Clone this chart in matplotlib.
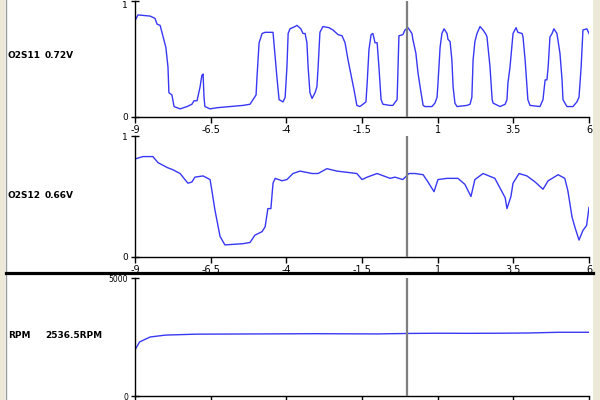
import matplotlib
matplotlib.use("Agg")
import matplotlib.pyplot as plt
from matplotlib.patches import Rectangle
from matplotlib.lines import Line2D

# ---------------- data ----------------
o2s11_t = [-9.00, -8.90, -8.50, -8.34, -8.27, -8.17, -8.07, -7.98, -7.91, -7.88, -7.78, -7.71, -7.51, -7.28,
           -7.12, -7.05, -6.95, -6.85, -6.79, -6.75, -6.72, -6.69, -6.52, -6.29, -5.86, -5.43, -5.20, -5.10,
           -5.00, -4.97, -4.90, -4.80, -4.70, -4.44, -4.41, -4.31, -4.24, -4.11, -4.04, -3.98, -3.94, -3.88,
           -3.71, -3.65, -3.52, -3.45, -3.38, -3.32, -3.28, -3.22, -3.15, -3.05, -2.99, -2.95, -2.89, -2.79,
           -2.59, -2.46, -2.29, -2.16, -2.06, -1.96, -1.83, -1.76, -1.67, -1.57, -1.47, -1.37, -1.33, -1.27,
           -1.20, -1.14, -1.07, -1.00, -0.94, -0.87, -0.81, -0.58, -0.48, -0.34, -0.31, -0.28, -0.15, -0.08,
           0.02, 0.15, 0.18, 0.28, 0.35, 0.45, 0.52, 0.58, 0.81, 0.91, 0.98, 1.01, 1.08, 1.14, 1.21, 1.31,
           1.34, 1.41, 1.47, 1.51, 1.57, 1.64, 1.97, 2.07, 2.13, 2.17, 2.23, 2.30, 2.40, 2.50, 2.60, 2.63,
           2.73, 2.80, 2.83, 3.06, 3.23, 3.29, 3.32, 3.39, 3.46, 3.49, 3.59, 3.65, 3.79, 3.82, 3.89, 3.95,
           3.98, 4.05, 4.38, 4.48, 4.55, 4.61, 4.65, 4.71, 4.78, 4.84, 4.94, 4.98, 5.04, 5.11, 5.14, 5.27,
           5.47, 5.60, 5.67, 5.74, 5.80, 5.93, 6.00]
o2s11_v = [0.83, 0.88, 0.87, 0.85, 0.80, 0.79, 0.69, 0.60, 0.43, 0.21, 0.19, 0.09, 0.07, 0.09,
           0.11, 0.14, 0.14, 0.26, 0.36, 0.37, 0.17, 0.09, 0.07, 0.08, 0.09, 0.10, 0.11, 0.15,
           0.19, 0.34, 0.64, 0.72, 0.73, 0.73, 0.64, 0.34, 0.15, 0.13, 0.17, 0.43, 0.72, 0.76,
           0.78, 0.79, 0.76, 0.72, 0.72, 0.64, 0.43, 0.21, 0.16, 0.21, 0.26, 0.43, 0.73, 0.78,
           0.77, 0.75, 0.71, 0.70, 0.64, 0.49, 0.32, 0.23, 0.10, 0.09, 0.11, 0.13, 0.29, 0.58,
           0.71, 0.72, 0.64, 0.64, 0.43, 0.15, 0.11, 0.10, 0.10, 0.15, 0.43, 0.70, 0.71, 0.75,
           0.77, 0.72, 0.67, 0.55, 0.38, 0.21, 0.10, 0.09, 0.09, 0.12, 0.17, 0.29, 0.60, 0.72, 0.76, 0.72,
           0.67, 0.65, 0.49, 0.26, 0.12, 0.09, 0.10, 0.11, 0.17, 0.49, 0.65, 0.72, 0.78, 0.75, 0.71, 0.69,
           0.43, 0.15, 0.12, 0.09, 0.11, 0.15, 0.29, 0.43, 0.64, 0.72, 0.77, 0.73, 0.72, 0.69, 0.49, 0.26,
           0.15, 0.10, 0.09, 0.15, 0.32, 0.32, 0.43, 0.69, 0.72, 0.76, 0.72, 0.65, 0.55, 0.32, 0.15, 0.09,
           0.09, 0.13, 0.17, 0.43, 0.75, 0.76, 0.72]

o2s12_t = [-9.00, -8.74, -8.41, -8.24, -7.94, -7.74, -7.51, -7.35, -7.25, -7.12, -7.02, -6.75, -6.52,
           -6.46, -6.36, -6.19, -6.03, -5.43, -5.20, -5.04, -4.80, -4.70, -4.61, -4.51, -4.44, -4.37,
           -4.14, -3.98, -3.78, -3.55, -3.15, -2.95, -2.66, -2.33, -2.00, -1.67, -1.50, -1.33, -1.00,
           -0.57, -0.41, -0.15, 0.05, 0.25, 0.52, 0.68, 0.88, 1.01, 1.31, 1.67, 1.90, 2.10, 2.23, 2.50,
           2.89, 3.06, 3.23, 3.29, 3.42, 3.49, 3.69, 3.95, 4.22, 4.48, 4.65, 4.98, 5.20, 5.30, 5.44,
           5.53, 5.67, 5.80, 5.92, 6.00]
o2s12_v = [0.81, 0.83, 0.83, 0.78, 0.74, 0.72, 0.69, 0.64, 0.61, 0.62, 0.66, 0.67, 0.64,
           0.55, 0.39, 0.17, 0.10, 0.11, 0.12, 0.18, 0.21, 0.25, 0.40, 0.40, 0.61, 0.65,
           0.63, 0.64, 0.69, 0.71, 0.69, 0.69, 0.73, 0.71, 0.70, 0.69, 0.64, 0.66, 0.69,
           0.65, 0.66, 0.64, 0.69, 0.69, 0.68, 0.62, 0.54, 0.64, 0.65, 0.65, 0.60, 0.50, 0.64, 0.69,
           0.65, 0.57, 0.49, 0.40, 0.50, 0.61, 0.69, 0.67, 0.62, 0.56, 0.63, 0.68, 0.65, 0.55, 0.33,
           0.25, 0.14, 0.22, 0.26, 0.41]

rpm_t = [-9.0, -8.85, -8.6, -8.5, -8.0, -7.0, -5.0, -3.0, -1.0, 0.0, 1.0, 2.0, 3.0, 4.0, 5.0, 6.0]
rpm_v = [1950, 2290, 2440, 2500, 2580, 2620, 2630, 2640, 2630, 2650, 2660, 2655, 2660, 2670, 2700, 2700]

x_ticks = [-9, -6.5, -4, -1.5, 1, 3.5, 6]
x_tick_labels = ["-9", "-6.5", "-4", "-1.5", "1", "3.5", "6"]

panel_names = ["O2S11", "O2S12", "RPM"]
panel_readings = ["0.72V", "0.66V", "2536.5RPM"]
cursor_t = 0.0

# ---------------- figure ----------------
W, H = 600, 400
fig = plt.figure(figsize=(6, 4), dpi=100)
fig.patch.set_facecolor("white")
plt.rcParams["font.family"] = ["DejaVu Sans"]

LINE_COLOR = "#3838f4"
CURSOR_COLOR = "#7f7f7f"


def rect(left, top, right, bottom):
    return [left / W, 1 - bottom / H, (right - left) / W, (bottom - top) / H]


def style(ax, ymax, ylabels):
    ax.set_xlim(-9, 6)
    ax.set_ylim(0, ymax)
    for s in ("top", "right"):
        ax.spines[s].set_visible(False)
    for s in ("left", "bottom"):
        ax.spines[s].set_color("black")
        ax.spines[s].set_linewidth(1.0)
    ax.set_xticks(x_ticks)
    ax.set_xticklabels(x_tick_labels)
    ax.set_yticks([0, ymax])
    ax.set_yticklabels(ylabels)
    ax.tick_params(axis="x", direction="out", length=4, width=1, pad=1.5, labelsize=7, colors="black")
    ax.tick_params(axis="y", direction="inout", length=6, width=1, pad=2, labelsize=6.5, colors="black")
    ax.set_facecolor("white")
    ax.axvline(cursor_t, color=CURSOR_COLOR, lw=1.6, zorder=3)


ax1 = fig.add_axes(rect(135, 1, 589, 117))
ax1.plot(o2s11_t, o2s11_v, color=LINE_COLOR, lw=1.0)
style(ax1, 1, ["0", "1"])
# keep the top "1" label inside the window
ax1.get_yticklabels()[1].set_verticalalignment("top")

ax2 = fig.add_axes(rect(135, 136, 589, 257))
ax2.plot(o2s12_t, o2s12_v, color=LINE_COLOR, lw=1.0)
style(ax2, 1, ["0", "1"])

ax3 = fig.add_axes(rect(135, 278, 589, 396))
ax3.plot(rpm_t, rpm_v, color=LINE_COLOR, lw=1.0)
style(ax3, 5000, ["0", "5000"])
ax3.tick_params(axis="y", labelsize=5.5)
# the bottom panel's x tick labels fall below the visible window in the reference
ax3.tick_params(axis="x", labelbottom=False)

# labels at left
label_y = [56, 195, 335]
for name, val, yy in zip(panel_names, panel_readings, label_y):
    fig.text(8 / W, 1 - yy / H, name, fontsize=6.5, fontweight="bold", va="center", ha="left")
    fig.text(45 / W, 1 - yy / H, val, fontsize=6.5, fontweight="bold", va="center", ha="left")

# window chrome: beige side strips
fig.patches.append(Rectangle((0, 0), 5 / W, 1, transform=fig.transFigure,
                             facecolor="#ece9d8", edgecolor="none", zorder=0))
fig.lines.append(Line2D([5.5 / W, 5.5 / W], [0, 1], transform=fig.transFigure,
                        color="#9a9a9a", lw=1.0))
fig.patches.append(Rectangle((593 / W, 0), 7 / W, 1, transform=fig.transFigure,
                             facecolor="#ece9d8", edgecolor="none", zorder=0))

# thick separator
fig.lines.append(Line2D([6 / W, 593 / W], [1 - 273 / H, 1 - 273 / H], transform=fig.transFigure,
                        color="black", lw=2.3))

fig.savefig("out.png", dpi=100)
